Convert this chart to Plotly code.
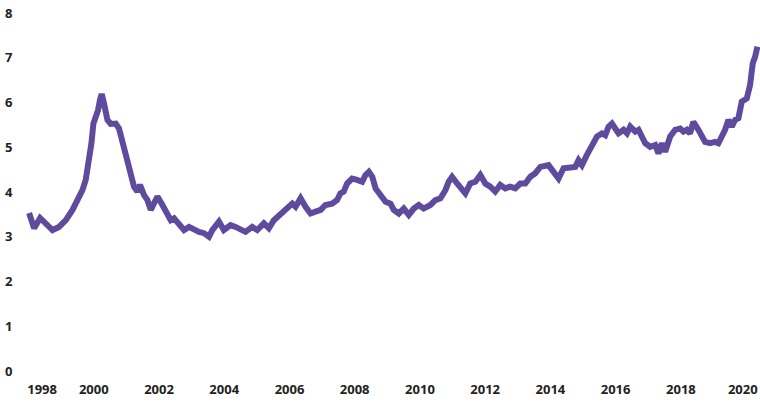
import plotly.graph_objects as go

dates = [
    "1998-01-07", "1998-02-14", "1998-03-04", "1998-05-10", "1998-07-13", "1998-09-26", "1998-12-08",
    "1999-02-22", "1999-05-08", "1999-07-02", "1999-08-27", "1999-10-03", "1999-10-22", "1999-11-20",
    "1999-12-06", "1999-12-28", "2000-01-23", "2000-02-18", "2000-03-11", "2000-03-30", "2000-04-25",
    "2000-06-02", "2000-07-09", "2000-09-03", "2000-10-10", "2000-11-17", "2000-12-24", "2001-01-30",
    "2001-02-26", "2001-03-27", "2001-05-04", "2001-06-02", "2001-07-17", "2001-08-24", "2001-09-30",
    "2001-11-06", "2001-12-14", "2002-02-08", "2002-04-05", "2002-05-12", "2002-06-18", "2002-08-13",
    "2002-10-08", "2002-12-03", "2003-01-28", "2003-03-25", "2003-05-19", "2003-07-14", "2003-08-21",
    "2003-11-03", "2003-12-28", "2004-03-12", "2004-05-07", "2004-07-02", "2004-08-27", "2004-11-10",
    "2005-01-05", "2005-03-20", "2005-05-15", "2005-07-10", "2005-09-23", "2005-12-07", "2006-02-01",
    "2006-03-10", "2006-05-05", "2006-06-30", "2006-08-25", "2006-10-20", "2006-12-16", "2007-02-08",
    "2007-04-23", "2007-06-18", "2007-07-25", "2007-08-31", "2007-10-08", "2007-12-03", "2008-01-09",
    "2008-01-28", "2008-03-25", "2008-05-01", "2008-06-08", "2008-07-16", "2008-08-22", "2008-10-17",
    "2008-12-12", "2009-02-05", "2009-03-14", "2009-05-09", "2009-07-04", "2009-08-29", "2009-10-24",
    "2009-12-19", "2010-02-12", "2010-04-28", "2010-06-23", "2010-08-18", "2010-10-13", "2010-11-19",
    "2010-12-27", "2011-02-21", "2011-04-17", "2011-05-24", "2011-07-19", "2011-09-13", "2011-11-08",
    "2012-01-03", "2012-02-27", "2012-04-23", "2012-06-18", "2012-08-13", "2012-10-08", "2012-12-03",
    "2013-01-29", "2013-03-26", "2013-05-21", "2013-07-16", "2013-09-10", "2013-11-04", "2013-12-11",
    "2014-02-05", "2014-04-02", "2014-05-28", "2014-08-11", "2014-10-06", "2014-11-12", "2014-12-20",
    "2015-02-14", "2015-04-11", "2015-06-06", "2015-07-31", "2015-09-07", "2015-10-14", "2015-11-21",
    "2015-12-28", "2016-02-03", "2016-03-30", "2016-05-07", "2016-06-13", "2016-08-08", "2016-09-14",
    "2016-10-22", "2016-11-28", "2017-01-22", "2017-03-19", "2017-04-25", "2017-06-02", "2017-07-09",
    "2017-09-03", "2017-10-29", "2017-12-24", "2018-01-30", "2018-03-08", "2018-04-14", "2018-05-21",
    "2018-07-16", "2018-08-23", "2018-09-29", "2018-11-24", "2019-01-19", "2019-02-25", "2019-04-04",
    "2019-05-11", "2019-06-17", "2019-07-25", "2019-08-31", "2019-10-07", "2019-11-14", "2020-01-09",
    "2020-02-15", "2020-03-16", "2020-04-11", "2020-05-07",
]

values = [
    3.53, 3.22, 3.19, 3.42, 3.31, 3.15, 3.22,
    3.37, 3.60, 3.82, 4.04, 4.27, 4.49, 4.79,
    5.09, 5.53, 5.68, 5.83, 6.06, 6.19, 5.98,
    5.61, 5.52, 5.53, 5.42, 5.12, 4.79, 4.56,
    4.42, 4.12, 4.01, 4.16, 3.93, 3.82, 3.60,
    3.78, 3.90, 3.71, 3.52, 3.37, 3.41, 3.26,
    3.15, 3.22, 3.15, 3.11, 3.08, 3.00, 3.15,
    3.34, 3.15, 3.26, 3.22, 3.15, 3.11, 3.22,
    3.15, 3.30, 3.19, 3.37, 3.52, 3.63, 3.74,
    3.67, 3.86, 3.67, 3.52, 3.56, 3.60, 3.71,
    3.74, 3.82, 3.97, 4.01, 4.19, 4.30, 4.30,
    4.27, 4.23, 4.38, 4.45, 4.34, 4.08, 3.90,
    3.78, 3.74, 3.60, 3.52, 3.63, 3.49, 3.63,
    3.71, 3.63, 3.71, 3.82, 3.86, 4.04, 4.23,
    4.34, 4.19, 4.04, 3.97, 4.19, 4.23, 4.38,
    4.19, 4.12, 4.01, 4.16, 4.08, 4.12, 4.08,
    4.19, 4.19, 4.34, 4.42, 4.56, 4.60, 4.60,
    4.45, 4.30, 4.53, 4.56, 4.56, 4.71, 4.60,
    4.83, 5.05, 5.24, 5.31, 5.27, 5.46, 5.53,
    5.42, 5.31, 5.39, 5.31, 5.46, 5.35, 5.39,
    5.24, 5.09, 5.01, 5.05, 4.86, 5.09, 4.90,
    5.24, 5.39, 5.42, 5.35, 5.39, 5.31, 5.57,
    5.39, 5.27, 5.12, 5.09, 5.12, 5.09, 5.24,
    5.39, 5.61, 5.46, 5.61, 5.65, 6.02, 6.09,
    6.39, 6.88, 7.02, 7.25,
]

x_tick_vals = ["1998-06-01", "2000-01-01", "2002-01-01", "2004-01-01", "2006-01-01", "2008-01-01",
               "2010-01-01", "2012-01-01", "2014-01-01", "2016-01-01", "2018-01-01", "2019-11-25"]
x_tick_text = ["1998", "2000", "2002", "2004", "2006", "2008",
               "2010", "2012", "2014", "2016", "2018", "2020"]
y_tick_vals = [0, 1, 2, 3, 4, 5, 6, 7, 8]

line_color = "#5f4b9e"
tick_font = dict(family="Open Sans", size=13, color="#222222", weight="bold")

fig = go.Figure()
fig.add_trace(go.Scatter(
    x=dates, y=values, mode="lines",
    line=dict(color=line_color, width=6, shape="linear"),
    hoverinfo="x+y", showlegend=False,
))

fig.update_layout(
    width=760, height=403,
    margin=dict(l=20, r=0, t=13, b=32),
    paper_bgcolor="white", plot_bgcolor="white",
    xaxis=dict(
        type="date", range=["1997-09-27", "2020-06-05"],
        tickvals=x_tick_vals, ticktext=x_tick_text,
        showgrid=False, zeroline=False, showline=False,
        ticks="outside", ticklen=6, tickcolor="rgba(0,0,0,0)",
        tickfont=tick_font,
    ),
    yaxis=dict(
        range=[0, 8], tickvals=y_tick_vals,
        showgrid=False, zeroline=False, showline=False,
        ticks="outside", ticklen=4, tickcolor="rgba(0,0,0,0)",
        tickfont=tick_font,
    ),
)

fig.write_html(
    "out.html",
    config={"displayModeBar": False},
    post_script="document.body.style.margin='0';document.body.style.overflow='hidden';",
)
